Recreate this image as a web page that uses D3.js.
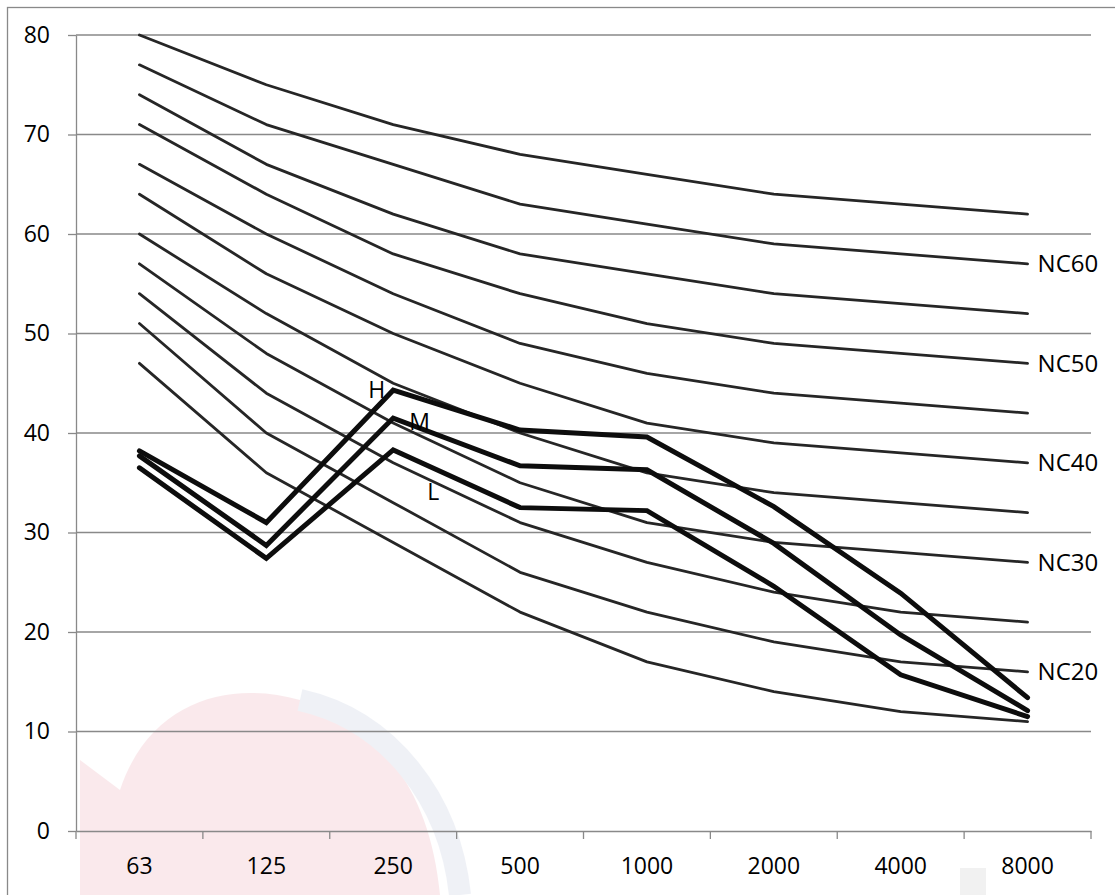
<!DOCTYPE html>
<html>
<head>
<meta charset="utf-8">
<script src="https://cdn.jsdelivr.net/npm/d3@7"></script>
<style>
  body { margin: 0; background: #fff; }
  text { font-family: "Open Sans", sans-serif; fill: #000; }
</style>
</head>
<body>
<svg id="viz" width="1115" height="895"></svg>
<script>
(function () {
  "use strict";

  // Octave band centre frequencies (Hz)
  const freqs = ["63", "125", "250", "500", "1000", "2000", "4000", "8000"];

  // NC reference curves, lowest to highest
  const nc15 = [47, 36, 29, 22, 17, 14, 12, 11];
  const nc20 = [51, 40, 33, 26, 22, 19, 17, 16];
  const nc25 = [54, 44, 37, 31, 27, 24, 22, 21];
  const nc30 = [57, 48, 41, 35, 31, 29, 28, 27];
  const nc35 = [60, 52, 45, 40, 36, 34, 33, 32];
  const nc40 = [64, 56, 50, 45, 41, 39, 38, 37];
  const nc45 = [67, 60, 54, 49, 46, 44, 43, 42];
  const nc50 = [71, 64, 58, 54, 51, 49, 48, 47];
  const nc55 = [74, 67, 62, 58, 56, 54, 53, 52];
  const nc60 = [77, 71, 67, 63, 61, 59, 58, 57];
  const nc65 = [80, 75, 71, 68, 66, 64, 63, 62];

  const ncCurves = [nc15, nc20, nc25, nc30, nc35, nc40, nc45, nc50, nc55, nc60, nc65];
  // label shown at the right end of some curves ("" = no label)
  const ncLabels = ["", "NC20", "", "NC30", "", "NC40", "", "NC50", "", "NC60", ""];

  // measured spectra
  const measNames = ["H", "M", "L"];
  const measH = [38.2, 31.0, 44.3, 40.3, 39.6, 32.6, 23.9, 13.4];
  const measM = [37.7, 28.7, 41.5, 36.7, 36.3, 28.9, 19.7, 12.1];
  const measL = [36.5, 27.4, 38.3, 32.5, 32.2, 24.6, 15.7, 11.5];
  const measured = [measH, measM, measL];

  const yTicks = [0, 10, 20, 30, 40, 50, 60, 70, 80];

  /*
  |--------------------------------------------------------------------------
  | Layout
  |--------------------------------------------------------------------------
  */
  let plot = { left: 76, right: 1091, top: 35, bottom: 831 };
  let gridColor = "#898989";

  let svg = d3.select("#viz");

  // faint background watermark
  let wm = svg.append("g").attr("opacity", 0.35);
  wm.append("path")
    .attr("d", "M80,895 L80,760 L120,790 C150,700 230,680 300,700 C380,725 430,790 440,895 Z")
    .attr("fill", "#f2c3ca");
  wm.append("path")
    .attr("d", "M300,700 C390,720 450,800 460,895")
    .attr("fill", "none").attr("stroke", "#d3d9e8").attr("stroke-width", 22);
  wm.append("rect").attr("x", 960).attr("y", 868).attr("width", 26).attr("height", 27).attr("fill", "#d6d6d6");

  // outer chart border
  svg.append("rect")
    .attr("x", 7.5).attr("y", 7.5)
    .attr("width", 1120).attr("height", 900)
    .attr("fill", "none")
    .attr("stroke", gridColor)
    .attr("stroke-width", 1.3);

  /*
  |--------------------------------------------------------------------------
  | Scales
  |--------------------------------------------------------------------------
  */
  let x = d3.scaleBand().domain(freqs).range([plot.left, plot.right]);
  let cx = d => x(d) + x.bandwidth() / 2;

  let y = d3.scaleLinear().domain([0, 80]).range([plot.bottom, plot.top]);

  /*
  |--------------------------------------------------------------------------
  | Grid + axes
  |--------------------------------------------------------------------------
  */
  svg.append("g")
    .selectAll("line")
    .data(yTicks.slice(1))
    .enter()
    .append("line")
    .attr("x1", plot.left).attr("x2", plot.right)
    .attr("y1", d => y(d)).attr("y2", d => y(d))
    .attr("stroke", gridColor)
    .attr("stroke-width", 1.3);

  let yAxis = svg.append("g")
    .attr("transform", `translate(${plot.left},0)`)
    .call(d3.axisLeft(y).tickValues(yTicks).tickSize(8).tickPadding(18).tickSizeOuter(0));
  yAxis.select(".domain").attr("stroke", gridColor).attr("stroke-width", 1.3);
  yAxis.selectAll(".tick line").attr("stroke", gridColor).attr("stroke-width", 1.3);
  yAxis.selectAll("text").style("font-size", "23px").attr("fill", "#000");

  let xAxis = svg.append("g")
    .attr("transform", `translate(0,${plot.bottom})`)
    .call(d3.axisBottom(x).tickSize(0).tickPadding(27).tickSizeOuter(0));
  xAxis.select(".domain").attr("stroke", gridColor).attr("stroke-width", 1.3);
  xAxis.selectAll("text").style("font-size", "23px").attr("fill", "#000");

  // ticks on category boundaries
  let edges = freqs.map(d => x(d)).concat([plot.right]);
  svg.append("g")
    .selectAll("line")
    .data(edges)
    .enter()
    .append("line")
    .attr("x1", d => d).attr("x2", d => d)
    .attr("y1", plot.bottom).attr("y2", plot.bottom + 8)
    .attr("stroke", gridColor)
    .attr("stroke-width", 1.3);

  /*
  |--------------------------------------------------------------------------
  | Lines
  |--------------------------------------------------------------------------
  */
  let line = d3.line()
    .x((d, i) => cx(freqs[i]))
    .y(d => y(d));

  svg.append("g")
    .selectAll("path")
    .data(ncCurves)
    .enter()
    .append("path")
    .attr("d", line)
    .attr("fill", "none")
    .attr("stroke", "#262626")
    .attr("stroke-width", 2.8)
    .attr("stroke-linecap", "round")
    .attr("stroke-linejoin", "round");

  svg.append("g")
    .selectAll("text")
    .data(ncCurves.map((c, i) => ({ v: c[c.length - 1], t: ncLabels[i] })).filter(d => d.t))
    .enter()
    .append("text")
    .attr("x", cx(freqs[freqs.length - 1]) + 10)
    .attr("y", d => y(d.v))
    .attr("dy", "0.35em")
    .style("font-size", "24px")
    .text(d => d.t);

  svg.append("g")
    .selectAll("path")
    .data(measured)
    .enter()
    .append("path")
    .attr("d", line)
    .attr("fill", "none")
    .attr("stroke", "#0d0d0d")
    .attr("stroke-width", 5)
    .attr("stroke-linecap", "round")
    .attr("stroke-linejoin", "miter");

  // H / M / L labels near the 250 Hz point
  let labelOffset = [
    { dx: -8, dy: 0, anchor: "end" },
    { dx: 16, dy: 4, anchor: "start" },
    { dx: 34, dy: 42, anchor: "start" }
  ];
  svg.append("g")
    .selectAll("text")
    .data(measured)
    .enter()
    .append("text")
    .attr("x", (d, i) => cx("250") + labelOffset[i].dx)
    .attr("y", (d, i) => y(d[2]) + labelOffset[i].dy)
    .attr("dy", "0.35em")
    .attr("text-anchor", (d, i) => labelOffset[i].anchor)
    .style("font-size", "23px")
    .text((d, i) => measNames[i]);

})();
</script>
</body>
</html>
